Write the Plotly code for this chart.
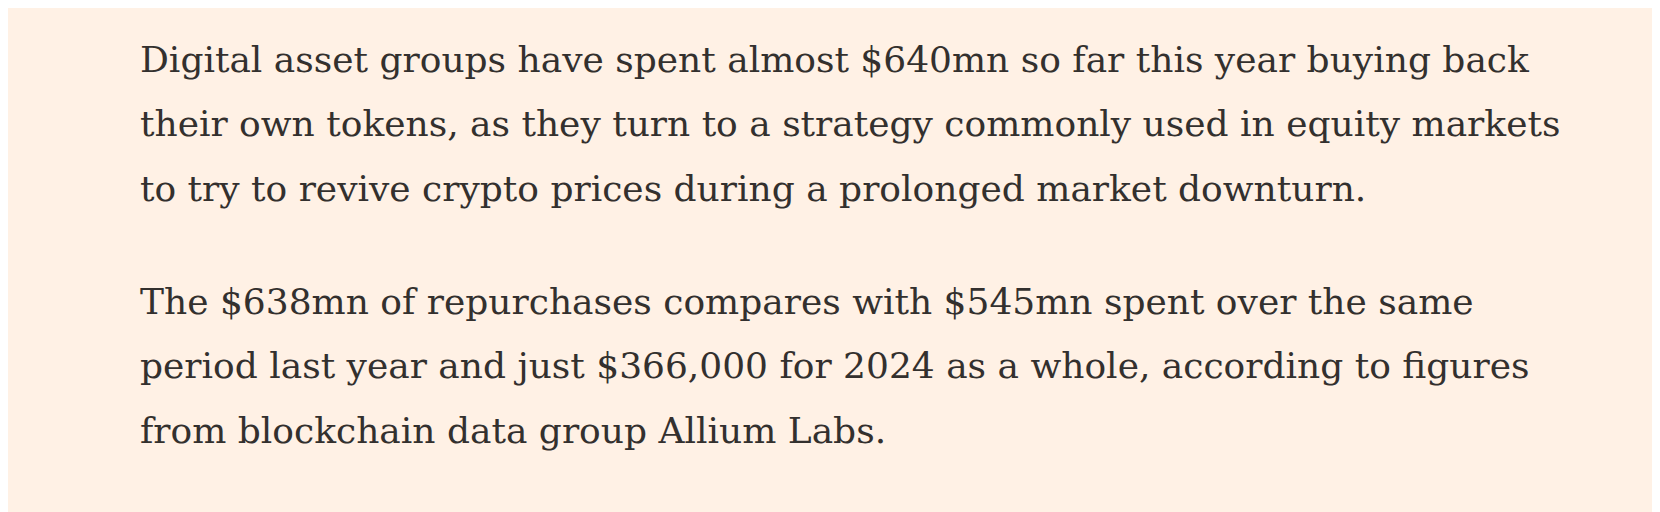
import plotly.graph_objects as go

# paragraph text, one entry per rendered line
para1_lines = [
    "Digital asset groups have spent almost $640mn so far this year buying back",
    "their own tokens, as they turn to a strategy commonly used in equity markets",
    "to try to revive crypto prices during a prolonged market downturn.",
]
para2_lines = [
    "The $638mn of repurchases compares with $545mn spent over the same",
    "period last year and just $366,000 for 2024 as a whole, according to figures",
    "from blockchain data group Allium Labs.",
]

W, H = 1660, 512
left = 130
line_gap = 64.5
para_tops = [51, 293]

fig = go.Figure()
for top, lines in zip(para_tops, [para1_lines, para2_lines]):
    for i, txt in enumerate(lines):
        fig.add_annotation(
            x=left, y=top + i * line_gap, text=txt,
            xanchor="left", yanchor="middle", showarrow=False,
            font=dict(family="DejaVu Serif", size=36, color="#33302E"),
        )

fig.update_xaxes(range=[0, W], visible=False)
fig.update_yaxes(range=[H, 0], visible=False)
fig.update_layout(
    width=W, height=H,
    margin=dict(l=0, r=0, t=0, b=0),
    paper_bgcolor="#FFF1E5", plot_bgcolor="#FFF1E5",
)
fig.write_html("out.html")
